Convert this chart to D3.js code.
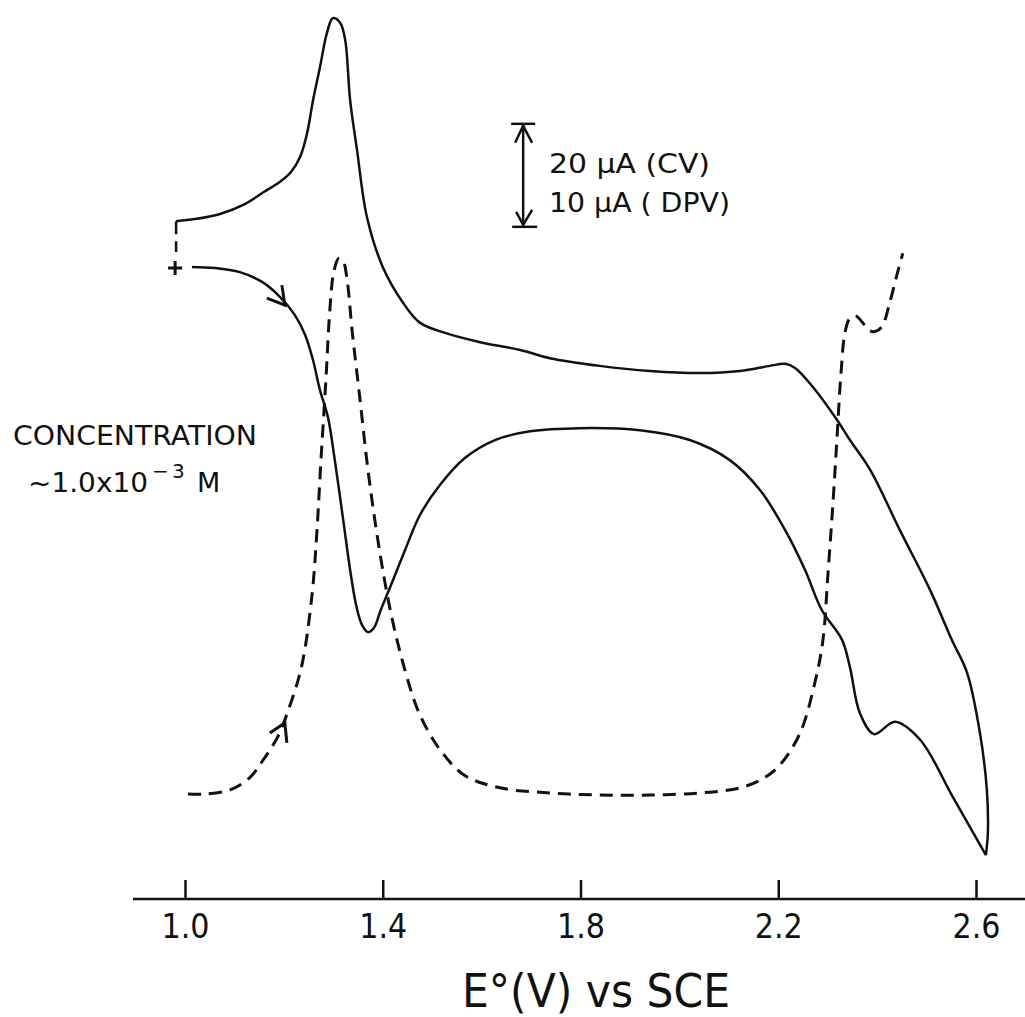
<!DOCTYPE html>
<html>
<head>
<meta charset="utf-8">
<script src="https://cdn.jsdelivr.net/npm/d3@7"></script>
<style>
  body { margin: 0; background: #fff; }
  svg { display: block; }
  text { font-family: "DejaVu Sans", sans-serif; fill: #111; }
</style>
</head>
<body>
<svg width="1025" height="1017"></svg>
<script>
// potential (V vs SCE) and current readings

// CV forward scan, from the start marker to the anodic limit (uA)
let cvForward = [
  [1.014, 0], [1.061, -0.2], [1.111, -1.0], [1.156, -2.9], [1.192, -5.8],
  [1.222, -9.3], [1.243, -13.2], [1.259, -18.1], [1.273, -23.9], [1.289, -29.1],
  [1.303, -37.5], [1.320, -49.1], [1.334, -58.8], [1.346, -65.6], [1.358, -69.5],
  [1.370, -70.9], [1.382, -70.1], [1.396, -66.6], [1.419, -61.2], [1.445, -55.0],
  [1.475, -48.2], [1.516, -42.3], [1.566, -37.1], [1.627, -33.6], [1.698, -31.9],
  [1.799, -31.3], [1.920, -31.7], [2.021, -33.6], [2.102, -37.5], [2.163, -43.3],
  [2.214, -51.1], [2.254, -58.8], [2.288, -66.6], [2.329, -72.4], [2.345, -77.7],
  [2.365, -86.6], [2.394, -90.7], [2.436, -88.3], [2.487, -91.8], [2.553, -102.9],
  [2.620, -114.2]
];

// CV reverse scan, back to the start potential
let cvReverse = [
  [2.620, -114.2], [2.624, -109.9], [2.622, -101.6], [2.608, -90.5], [2.582, -78.8],
  [2.551, -72.4], [2.507, -62.7], [2.446, -51.1], [2.386, -39.4], [2.345, -33.6],
  [2.319, -29.7], [2.270, -23.3], [2.234, -19.6], [2.214, -18.8], [2.183, -19.2],
  [2.123, -20.2], [2.042, -20.6], [1.941, -20.2], [1.839, -19.2], [1.738, -17.7],
  [1.678, -16.1], [1.597, -14.6], [1.526, -12.8], [1.475, -10.8], [1.440, -6.8],
  [1.400, 0], [1.368, 9.7], [1.348, 22.7], [1.334, 32.4], [1.324, 44.1],
  [1.314, 47.4], [1.299, 48.3], [1.287, 45.4], [1.273, 38.8], [1.259, 32.4],
  [1.247, 26.0], [1.233, 21.4], [1.214, 18.4], [1.190, 16.4], [1.160, 14.6],
  [1.121, 12.2], [1.071, 10.3], [1.020, 9.3], [0.982, 8.9]
];

// differential pulse voltammogram (uA)
let dpv = [
  [1.006, 0], [1.040, 0], [1.091, 0.4], [1.131, 1.6], [1.158, 3.3],
  [1.188, 5.6], [1.218, 9.4], [1.233, 11.8], [1.243, 14.2], [1.251, 16.9],
  [1.259, 20.3], [1.267, 25.6], [1.275, 32.4], [1.285, 40.2], [1.293, 47.0],
  [1.301, 50.7], [1.311, 52.0], [1.320, 51.7], [1.328, 49.9], [1.338, 45.0],
  [1.354, 38.3], [1.370, 31.5], [1.390, 24.7], [1.415, 17.9], [1.445, 12.0],
  [1.475, 7.7], [1.516, 4.3], [1.566, 1.8], [1.637, 0.6], [1.738, 0.1],
  [1.839, -0.1], [1.941, -0.1], [2.042, 0.1], [2.123, 0.6], [2.173, 1.6],
  [2.203, 2.8], [2.244, 5.9], [2.274, 10.8], [2.290, 14.8], [2.301, 21.7],
  [2.311, 28.5], [2.319, 34.7], [2.327, 40.9], [2.335, 44.8], [2.345, 46.2],
  [2.357, 46.4], [2.370, 45.8], [2.384, 45.0], [2.396, 44.9], [2.410, 45.4],
  [2.426, 47.8], [2.440, 50.4], [2.452, 52.5]
];

let xTicks = [1.0, 1.4, 1.8, 2.2, 2.6];
let scaleBar = { E: 1.684, from: 7.8, span: 20 };   // 20 uA CV / 10 uA DPV
let startMark = [0.980, -0.2];

let svg = d3.select("svg");

let x = d3.scaleLinear().domain([1.0, 2.6]).range([185, 976]);
// CV and DPV drawn on their own current scales (20 uA vs 10 uA per bar)
let cvY = d3.scaleLinear().domain([0, 20]).range([267, 164]);
let dpvY = d3.scaleLinear().domain([0, 10]).range([794, 691]);

let cvLine = d3.line()
    .x(d => x(d[0]))
    .y(d => cvY(d[1]))
    .curve(d3.curveCatmullRom.alpha(0.5));

let dpvLine = d3.line()
    .x(d => x(d[0]))
    .y(d => dpvY(d[1]))
    .curve(d3.curveCatmullRom.alpha(0.5));

// axis
let axisY = 899;
let axis = svg.append("g")
    .attr("transform", `translate(0,${axisY})`)
    .call(d3.axisBottom(x).tickValues(xTicks).tickSize(0).tickFormat(d3.format(".1f")));
axis.select(".domain").remove();
axis.selectAll(".tick text").remove();

axis.append("line")
    .attr("x1", 133).attr("x2", 1025)
    .attr("stroke", "#111").attr("stroke-width", 2.5);

axis.selectAll(".tick").append("line")
    .attr("y1", 0).attr("y2", -19)
    .attr("stroke", "#111").attr("stroke-width", 2.5);

axis.selectAll(".tick").append("text")
    .attr("y", 39)
    .attr("text-anchor", "middle")
    .attr("font-size", 34)
    .attr("textLength", 48)
    .attr("lengthAdjust", "spacingAndGlyphs")
    .text(d => d3.format(".1f")(d));

svg.append("text")
    .attr("x", 462).attr("y", 1007)
    .attr("font-size", 47)
    .attr("textLength", 268)
    .attr("lengthAdjust", "spacingAndGlyphs")
    .text("E\u00B0(V)  vs  SCE");

// curves
svg.append("path").datum(cvForward)
    .attr("d", cvLine)
    .attr("fill", "none").attr("stroke", "#111").attr("stroke-width", 2.5);

svg.append("path").datum(cvReverse)
    .attr("d", cvLine)
    .attr("fill", "none").attr("stroke", "#111").attr("stroke-width", 2.5)
    .attr("stroke-linejoin", "round");

svg.append("path").datum(dpv)
    .attr("d", dpvLine)
    .attr("fill", "none").attr("stroke", "#111").attr("stroke-width", 3)
    .attr("stroke-dasharray", "13,8");

// dashed link from the end of the reverse scan down to the start marker
let last = cvReverse[cvReverse.length - 1];
svg.append("line")
    .attr("x1", x(last[0])).attr("x2", x(last[0]))
    .attr("y1", cvY(last[1])).attr("y2", cvY(2.9))
    .attr("stroke", "#111").attr("stroke-width", 2.5)
    .attr("stroke-dasharray", "13,7");

// start marker "+"
let sx = x(startMark[0]), sy = cvY(startMark[1]);
svg.append("path")
    .attr("d", `M${sx - 7},${sy}H${sx + 7}M${sx},${sy - 7}V${sy + 7}`)
    .attr("stroke", "#111").attr("stroke-width", 3);

// scan direction arrows (open chevrons)
function chevron(px, py, a, b) {
    svg.append("path")
        .attr("d", `M${px + a[0]},${py + a[1]}L${px},${py}L${px + b[0]},${py + b[1]}`)
        .attr("fill", "none").attr("stroke", "#111").attr("stroke-width", 3)
        .attr("stroke-linejoin", "miter");
}
chevron(x(1.202), cvY(-7.4), [-18, -7], [-3, -20]);
chevron(x(1.202), dpvY(6.9), [-15, 10], [2, 20]);

// scale bar
let bx = x(scaleBar.E),
    bTop = cvY(scaleBar.from + scaleBar.span),
    bBot = cvY(scaleBar.from);
let bar = svg.append("g").attr("stroke", "#111").attr("stroke-width", 2.5).attr("fill", "none");
bar.append("line").attr("x1", bx).attr("x2", bx).attr("y1", bTop).attr("y2", bBot);
bar.append("line").attr("x1", bx - 12).attr("x2", bx + 12).attr("y1", bTop).attr("y2", bTop);
bar.append("line").attr("x1", bx - 11).attr("x2", bx + 14).attr("y1", bBot).attr("y2", bBot);
bar.append("path").attr("d", `M${bx - 8},${bTop + 19}L${bx},${bTop + 2}L${bx + 9},${bTop + 19}`);
bar.append("path").attr("d", `M${bx - 7},${bBot - 15}L${bx},${bBot - 2}L${bx + 9},${bBot - 17}`);

svg.append("text")
    .attr("x", 549).attr("y", 173)
    .attr("font-size", 27)
    .attr("textLength", 161).attr("lengthAdjust", "spacingAndGlyphs")
    .text("20 \u03BCA (CV)");
svg.append("text")
    .attr("x", 549).attr("y", 212)
    .attr("font-size", 27)
    .attr("textLength", 181).attr("lengthAdjust", "spacingAndGlyphs")
    .text("10 \u03BCA ( DPV)");

// concentration note
svg.append("text")
    .attr("x", 13).attr("y", 445)
    .attr("font-size", 27)
    .attr("textLength", 244).attr("lengthAdjust", "spacingAndGlyphs")
    .text("CONCENTRATION");

let conc = svg.append("text").attr("y", 492).attr("font-size", 27);
conc.append("tspan").attr("x", 28)
    .attr("textLength", 120).attr("lengthAdjust", "spacingAndGlyphs")
    .text("~1.0x10");
conc.append("tspan").attr("x", 152).attr("dy", -14).attr("font-size", 20).text("\u2212");
conc.append("tspan").attr("x", 172).attr("font-size", 20).text("3");
conc.append("tspan").attr("x", 197).attr("dy", 14).text("M");
</script>
</body>
</html>
